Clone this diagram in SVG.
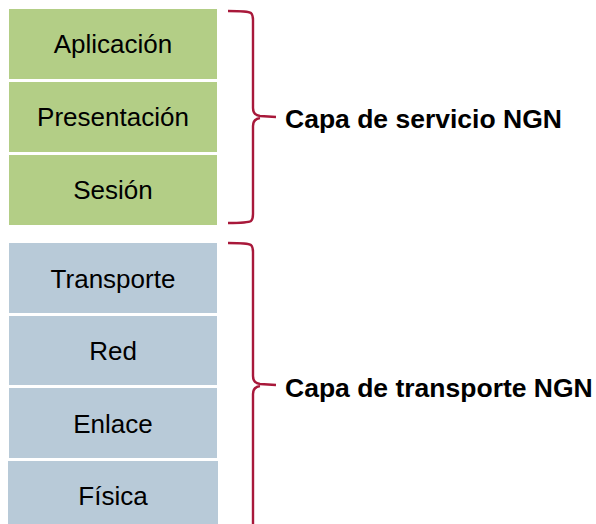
<svg xmlns="http://www.w3.org/2000/svg" width="596" height="524" viewBox="0 0 596 524">
<style>
.g{fill:#B3CE86}
.b{fill:#B8CAD8}
.t{font-family:"Liberation Sans",Arial,sans-serif;font-size:26px;fill:#000;text-anchor:middle}
.h{font-family:"Liberation Sans",Arial,sans-serif;font-size:26.5px;font-weight:bold;fill:#000}
.br{fill:none;stroke:#A8183A;stroke-width:2.4;stroke-linejoin:round}
</style>
<rect width="596" height="524" fill="#fff"/>
<g id="aplicacion"><rect class="g" x="9" y="9" width="208" height="70"/><text class="t" x="113" y="53">Aplicación</text></g>
<g id="presentacion"><rect class="g" x="9" y="82" width="208" height="70"/><text class="t" x="113" y="126">Presentación</text></g>
<g id="sesion"><rect class="g" x="9" y="155" width="208" height="70"/><text class="t" x="113" y="199">Sesión</text></g>
<g id="transporte"><rect class="b" x="9" y="243" width="208" height="70"/><text class="t" x="113" y="288">Transporte</text></g>
<g id="red"><rect class="b" x="9" y="316" width="208" height="69"/><text class="t" x="113" y="360">Red</text></g>
<g id="enlace"><rect class="b" x="9" y="388" width="208" height="70"/><text class="t" x="113" y="433">Enlace</text></g>
<g id="fisica"><rect class="b" x="8" y="461" width="210" height="63"/><text class="t" x="113" y="505">Física</text></g>
<g id="connectors">
<path class="br" d="M228,11 Q248,11 251,13 Q253,15 253,20 L253,108 Q253,115 260,116 L276,117 M260,118 Q253,119 253,126 L253,214 Q253,219 251,221 Q248,223 228,223"/>
<path class="br" d="M228,243 Q248,243 251,245 Q253,247 253,252 L253,376 Q253,383 260,384 L276,385 M260,386 Q253,387 253,394 L253,524"/>
</g>
<g id="capa-servicio"><text class="h" x="285" y="128">Capa de servicio NGN</text></g>
<g id="capa-transporte"><text class="h" x="285" y="397">Capa de transporte NGN</text></g>
</svg>
